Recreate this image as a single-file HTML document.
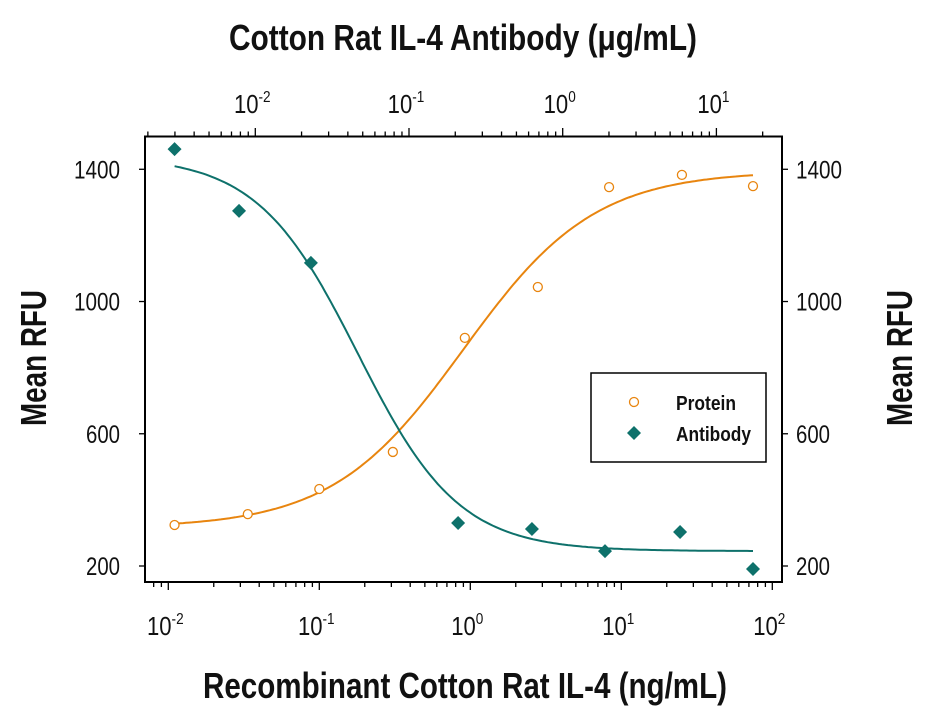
<!DOCTYPE html>
<html><head><meta charset="utf-8"><style>
html,body{margin:0;padding:0;background:#fff;width:927px;height:714px;overflow:hidden}
svg text{font-family:"Liberation Sans",sans-serif;fill:#111}
</style></head><body>
<svg id="chart" width="927" height="714" viewBox="0 0 927 714" xmlns="http://www.w3.org/2000/svg">
<rect x="0" y="0" width="927" height="714" fill="#fff"/>
<text x="463" y="50" font-size="36" font-weight="bold" text-anchor="middle" textLength="468" lengthAdjust="spacingAndGlyphs">Cotton Rat IL-4 Antibody (μg/mL)</text>
<text x="465" y="698" font-size="36" font-weight="bold" text-anchor="middle" textLength="524" lengthAdjust="spacingAndGlyphs">Recombinant Cotton Rat IL-4 (ng/mL)</text>
<text transform="translate(46,358) rotate(-90)" font-size="36" font-weight="bold" text-anchor="middle" textLength="136" lengthAdjust="spacingAndGlyphs">Mean RFU</text>
<text transform="translate(912,358) rotate(-90)" font-size="36" font-weight="bold" text-anchor="middle" textLength="136" lengthAdjust="spacingAndGlyphs">Mean RFU</text>
<rect x="145" y="136.5" width="637" height="445.5" fill="none" stroke="#000" stroke-width="2"/>
<g id="axes"></g>
<g id="curves"></g>
<g id="points"></g>
<g>
<rect x="591" y="373" width="175" height="89" fill="#fff" stroke="#000" stroke-width="1.5"/>
<circle cx="634" cy="402" r="4.5" fill="none" stroke="#e8850f" stroke-width="1.3"/>
<text x="676" y="410" font-size="20" font-weight="bold" textLength="60" lengthAdjust="spacingAndGlyphs">Protein</text>
<path d="M634 426 L641 433 L634 440 L627 433 Z" fill="#0e716b"/>
<text x="676" y="441" font-size="20" font-weight="bold" textLength="75" lengthAdjust="spacingAndGlyphs">Antibody</text>
</g>
</svg>
<script>
const proteinConc = [0.011, 0.0336, 0.1, 0.307, 0.92, 2.8, 8.3, 25.2, 74.5];
const proteinRFU = [324, 357, 433, 545, 890, 1044, 1346, 1383, 1349];
const antibodyConc = [0.011, 0.0294, 0.088, 0.83, 2.56, 7.8, 24.5, 74.5];
const antibodyRFU = [1461, 1274, 1117, 330, 312, 245, 303, 191];
const proteinFit = [315, 1395, 0.9, 1.0];   // bottom, top, ec50, hill
const antibodyFit = [1440, 245, 0.18, 1.3];
const yTicks = [200, 600, 1000, 1400];
const bottomDecades = [-2, -1, 0, 1, 2];
const topDecades = [-2, -1, 0, 1];

const NS = "http://www.w3.org/2000/svg";
const xB = v => 470.3 + 151 * Math.log10(v);
const xT = v => 562.7 + 153.7 * Math.log10(v);
const yS = v => 566 - (v - 200) * 0.3306;
function mk(tag, attrs, parent) {
  const e = document.createElementNS(NS, tag);
  for (const k in attrs) e.setAttribute(k, attrs[k]);
  parent.appendChild(e); return e;
}
const axes = document.getElementById('axes');
function supLabel(x, y, exp, name) {
  const t = mk('text', {x: x, y: y, 'font-size': 26, 'text-anchor': 'middle', transform: `translate(${x},0) scale(0.85,1) translate(${-x},0)`}, axes);
  
  
  t.textContent = '10';
  const s = mk('tspan', {dy: -11, 'font-size': 16}, t);
  s.textContent = String(exp);
}
for (let d = -3; d <= 2; d++) {
  for (let m = 1; m <= 9; m++) {
    const v = m * Math.pow(10, d), x = xB(v);
    if (x < 146 || x > 781) continue;
    const l = mk('line', {x1: x, x2: x, y1: 582, y2: m === 1 ? 590 : 587, stroke: '#000', 'stroke-width': 1.3}, axes);
    
    
  }
}
bottomDecades.forEach(d => supLabel(xB(Math.pow(10, d)) - 3, 635, d, 'x-tick-label'));
for (let d = -3; d <= 1; d++) {
  for (let m = 1; m <= 9; m++) {
    const v = m * Math.pow(10, d), x = xT(v);
    if (x < 146 || x > 781) continue;
    const l = mk('line', {x1: x, x2: x, y1: 136.5, y2: m === 1 ? 128 : 131.5, stroke: '#000', 'stroke-width': 1.3}, axes);
    
    
  }
}
topDecades.forEach(d => supLabel(xT(Math.pow(10, d)) - 3, 113, d, 'top-x-tick-label'));
yTicks.forEach(v => {
  const y = yS(v);
  const w = String(v).length === 4 ? 46 : 34;
  let l = mk('line', {x1: 139, x2: 145, y1: y, y2: y, stroke: '#000', 'stroke-width': 1.3}, axes);
  
  
  l = mk('line', {x1: 782, x2: 788, y1: y, y2: y, stroke: '#000', 'stroke-width': 1.3}, axes);
  
  
  let t = mk('text', {x: 120 - w, y: y + 9, 'font-size': 25, textLength: w, lengthAdjust: 'spacingAndGlyphs'}, axes);
  
  
  t.textContent = v;
  t = mk('text', {x: 796, y: y + 9, 'font-size': 25, textLength: w, lengthAdjust: 'spacingAndGlyphs'}, axes);
  
  
  t.textContent = v;
});
const curves = document.getElementById('curves');
function fourPL(p, c) { return p[0] + (p[1] - p[0]) / (1 + Math.pow(p[2] / c, p[3])); }
function drawCurve(p, x0, x1, color, name) {
  let d = '';
  for (let i = 0; i <= 200; i++) {
    const lc = Math.log10(x0) + (Math.log10(x1) - Math.log10(x0)) * i / 200;
    const c = Math.pow(10, lc);
    d += (i ? 'L' : 'M') + xB(c).toFixed(1) + ' ' + yS(fourPL(p, c)).toFixed(1);
  }
  const e = mk('path', {d: d, fill: 'none', stroke: color, 'stroke-width': 2}, curves);
  
  
}
drawCurve(proteinFit, 0.011, 74.5, '#e8850f', 'protein-fit-curve');
drawCurve(antibodyFit, 0.011, 74.5, '#0e716b', 'antibody-fit-curve');
const pts = document.getElementById('points');
proteinConc.forEach((c, i) => {
  const e = mk('circle', {cx: xB(c), cy: yS(proteinRFU[i]), r: 4.5, fill: '#fff', stroke: '#e8850f', 'stroke-width': 1.3}, pts);
  
  
});
antibodyConc.forEach((c, i) => {
  const x = xB(c), y = yS(antibodyRFU[i]);
  const e = mk('path', {d: `M${x} ${y-7}L${x+7} ${y}L${x} ${y+7}L${x-7} ${y}Z`, fill: '#0e716b'}, pts);
  
  
});
</script>
</body></html>
